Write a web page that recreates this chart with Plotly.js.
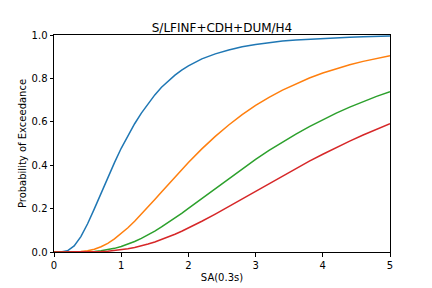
<!DOCTYPE html>
<html>
<head>
<meta charset="utf-8">
<script src="https://cdn.plot.ly/plotly-3.0.1.min.js"></script>
<style>html,body{margin:0;padding:0;background:#fff;}#chart{width:432px;height:288px;}</style>
</head>
<body>
<div id="chart"></div>
<script>
const chartTitle = "S/LFINF+CDH+DUM/H4";
const xLabel = "SA(0.3s)";
const yLabel = "Probability of Exceedance";
const sa = [0,0.1,0.2,0.3,0.4,0.5,0.6,0.7,0.8,0.9,1.0,1.1,1.2,1.3,1.4,1.5,1.6,1.7,1.8,1.9,2.0,
            2.2,2.4,2.6,2.8,3.0,3.2,3.4,3.6,3.8,4.0,4.2,4.4,4.6,4.8,5.0];
const ds1 = [0,0.0002,0.0056,0.028,0.071,0.130,0.199,0.271,0.343,0.412,0.478,0.537,0.591,0.640,0.684,0.724,0.759,0.789,0.815,0.838,0.858,
             0.890,0.913,0.931,0.946,0.956,0.965,0.972,0.977,0.981,0.985,0.988,0.990,0.992,0.994,0.995];
const ds2 = [0,0,0,0.0004,0.0018,0.0057,0.0129,0.0244,0.0401,0.0603,0.0843,0.1116,0.1417,0.1738,0.2073,0.2417,0.2765,0.3113,0.3457,0.3795,0.4124,
             0.4751,0.5329,0.5854,0.6328,0.6752,0.7129,0.7463,0.7758,0.8019,0.8248,0.845,0.8627,0.8784,0.892,0.904];
const ds3 = [0,0,0,0,0.0003,0.0011,0.0027,0.0057,0.0103,0.0168,0.0252,0.0357,0.0482,0.0626,0.0787,0.0964,0.1154,0.1355,0.1567,0.1785,0.2009,
             0.2467,0.2932,0.339,0.3837,0.4268,0.468,0.507,0.5436,0.578,0.610,0.640,0.6675,0.693,0.717,0.7386];
const ds4 = [0,0,0,0,0,0.0003,0.0009,0.0019,0.0037,0.0064,0.0100,0.0149,0.0209,0.0282,0.0367,0.0464,0.0572,0.0691,0.0820,0.0958,0.1104,
             0.1416,0.1749,0.2096,0.2450,0.2806,0.3163,0.3512,0.3855,0.4186,0.4506,0.4814,0.5108,0.539,0.5656,0.591];
const colors = ['#1f77b4','#ff7f0e','#2ca02c','#d62728'];
const series = [ds1, ds2, ds3, ds4];

const traces = series.map((ys, i) => ({
  x: sa, y: ys, type: 'scatter', mode: 'lines',
  line: {color: colors[i], width: 1.5}, hoverinfo: 'skip', cliponaxis: false
}));

const axisCommon = {
  showgrid: false, zeroline: false, showline: true, mirror: true,
  linecolor: '#000', linewidth: 1, ticks: 'outside', ticklen: 3.5, tickwidth: 1,
  tickcolor: '#000', tickfont: {family: 'DejaVu Sans', size: 10, color: '#000'}
};

const layout = {
  width: 432, height: 288,
  margin: {l: 54, r: 42, t: 35, b: 36, pad: 0},
  paper_bgcolor: '#fff', plot_bgcolor: '#fff',
  showlegend: false,
  font: {family: 'DejaVu Sans', size: 10, color: '#000'},
  title: {text: chartTitle, font: {family: 'DejaVu Sans', size: 12, color: '#000'},
          x: 0.5, xref: 'paper', y: 1, yref: 'paper', yanchor: 'bottom', pad: {b: 3}},
  xaxis: Object.assign({}, axisCommon, {
    range: [0, 5], tickmode: 'array', tickvals: [0,1,2,3,4,5], ticktext: ['0','1','2','3','4','5'],
    title: {text: xLabel, font: {family: 'DejaVu Sans', size: 10, color: '#000'}, standoff: 4}
  }),
  yaxis: Object.assign({}, axisCommon, {
    range: [0, 1], tickmode: 'array', tickvals: [0,0.2,0.4,0.6,0.8,1.0],
    ticktext: ['0.0','0.2','0.4','0.6','0.8','1.0'],
    title: {text: yLabel, font: {family: 'DejaVu Sans', size: 10, color: '#000'}, standoff: 3}
  })
};

Plotly.newPlot('chart', traces, layout, {staticPlot: true, displayModeBar: false});
</script>
</body>
</html>
